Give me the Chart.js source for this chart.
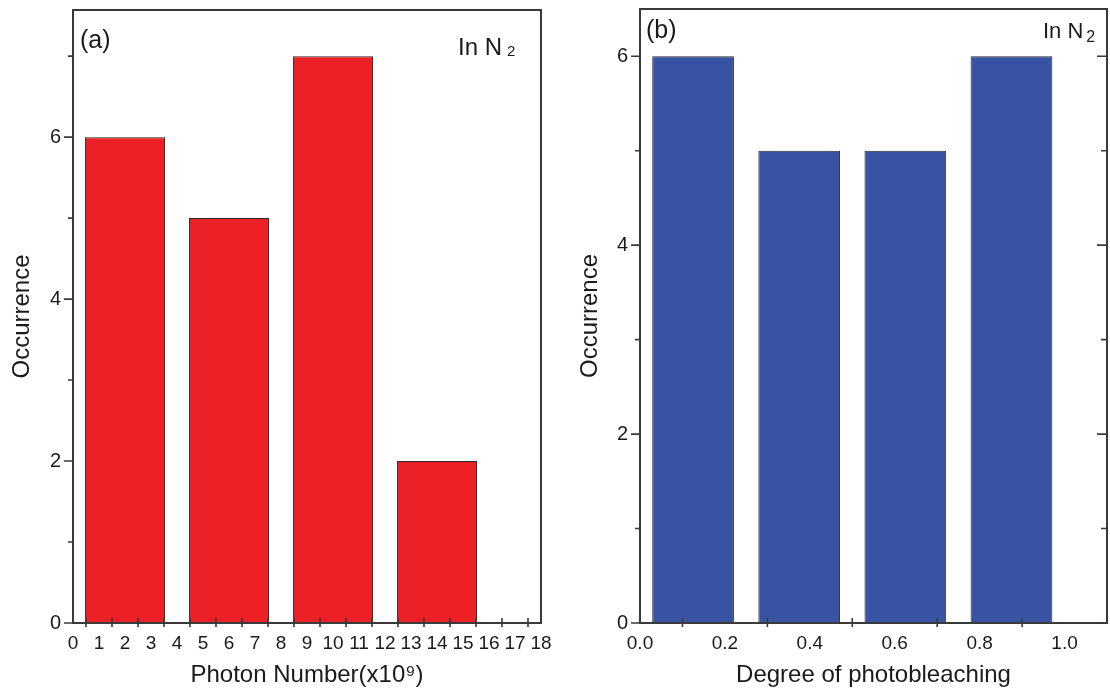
<!DOCTYPE html>
<html>
<head>
<meta charset="utf-8">
<title>Photon number and photobleaching in N2</title>
<script src="https://cdn.jsdelivr.net/npm/chart.js@4.4.1/dist/chart.umd.min.js"></script>
<style>
  html, body { margin: 0; padding: 0; background: #fff; }
  #wrap { position: relative; width: 1110px; height: 698px; }
  canvas { position: absolute; top: 0; }
  #photon { left: 0; }
  #bleach { left: 560px; }
</style>
</head>
<body>
<div id="wrap">
  <canvas id="photon" width="560" height="698"></canvas>
  <canvas id="bleach" width="550" height="698"></canvas>
</div>
<script>
// (a) photon number per molecule, bins 4 wide (x10^9)
const photonBins = [2, 6, 10, 14];
const photonCounts = [6, 5, 7, 2];
const photonTickLabels = [0, 1, 2, 3, 4, 5, 6, 7, 8, 9, 10, 11, 12, 13, 14, 15, 16, 17, 18];
const photonTickMarks = [0.5, 1.5, 2.5, 3.5, 4.5, 5.5, 6.5, 7.5, 8.5, 9.5, 10.5, 11.5, 12.5, 13.5, 14.5, 15.5, 16.5, 17.5];
const photonYTicks = [0, 1, 2, 3, 4, 5, 6, 7];

// (b) degree of photobleaching, bins 0.25 wide
const bleachBins = [0.125, 0.375, 0.625, 0.875];
const bleachCounts = [6, 5, 5, 6];
const bleachTickLabels = [0, 0.2, 0.4, 0.6, 0.8, 1.0];
const bleachTickMarks = [0.1, 0.3, 0.5, 0.7, 0.9];
const bleachYTicks = [0, 1, 2, 3, 4, 5, 6];

Chart.defaults.font.family = "'Liberation Sans', Arial, sans-serif";
Chart.defaults.color = '#1a1a1a';

// box around the plot, hand-made tick marks and the panel tags
const framePlugin = {
  id: 'frame',
  afterDatasetsDraw(chart, args, opts) {
    const { ctx, chartArea: a, scales: { x, y } } = chart;
    ctx.save();
    ctx.strokeStyle = '#3a3a3a';
    ctx.lineWidth = 2;
    ctx.strokeRect(a.left, a.top, a.right - a.left, a.bottom - a.top);

    ctx.lineWidth = 1.6;
    ctx.beginPath();
    opts.xMarks.forEach(v => {
      const px = x.getPixelForValue(v);
      ctx.moveTo(px, a.bottom - 5);
      ctx.lineTo(px, a.bottom + 4);
    });
    y.ticks.forEach(t => {
      const py = y.getPixelForValue(t.value);
      const major = t.value % 2 === 0;
      ctx.moveTo(a.left - (major ? 9 : 5), py);
      ctx.lineTo(a.left, py);
      if (opts.mirrorY) {
        ctx.moveTo(a.right, py);
        ctx.lineTo(a.right - (major ? 10 : 6), py);
      }
    });
    ctx.stroke();

    ctx.fillStyle = '#1a1a1a';
    ctx.textBaseline = 'middle';
    ctx.textAlign = 'left';
    ctx.font = "25px 'Liberation Sans', Arial, sans-serif";
    ctx.fillText(opts.tag, a.left + opts.tagX, opts.tagY);

    const g = opts.gas;
    ctx.textBaseline = 'alphabetic';
    ctx.font = g.size + "px 'Liberation Sans', Arial, sans-serif";
    ctx.fillText('In N', g.x, g.y);
    const w = ctx.measureText('In N').width;
    ctx.font = g.subSize + "px 'Liberation Sans', Arial, sans-serif";
    ctx.fillText('2', g.x + w + g.subGap, g.y + g.subDrop);
    ctx.restore();
  }
};

// keep edge labels from pushing the plot box inwards
function noEdgePadding(s) {
  s.paddingTop = 0;
  s.paddingBottom = 0;
  s.paddingLeft = 0;
  s.paddingRight = 0;
}

function histogram(id, p) {
  return new Chart(document.getElementById(id), {
    type: 'bar',
    data: {
      datasets: [{
        data: p.bins.map((b, i) => ({ x: b, y: p.counts[i] })),
        xAxisID: 'bins',
        yAxisID: 'y',
        backgroundColor: p.color,
        borderColor: '#2a2a2a',
        borderWidth: 1,
        borderSkipped: false,
        categoryPercentage: 1,
        barPercentage: 0.77
      }]
    },
    options: {
      responsive: false,
      animation: false,
      devicePixelRatio: 1,
      layout: { padding: p.padding },
      plugins: {
        legend: { display: false },
        tooltip: { enabled: false },
        frame: p.frame
      },
      scales: {
        x: {
          type: 'linear',
          position: 'bottom',
          min: 0,
          max: p.xMax,
          offset: false,
          grid: { display: false, drawTicks: false },
          border: { display: false },
          afterBuildTicks: s => { s.ticks = p.xLabels.map(v => ({ value: v })); },
          ticks: {
            padding: 9,
            autoSkip: false,
            maxRotation: 0,
            font: { size: 19 },
            callback: p.xFormat
          },
          title: {
            display: true,
            text: p.xTitle,
            font: { size: 24 },
            padding: { top: 0, bottom: 8 }
          },
          afterFit: s => { s.height = 75; noEdgePadding(s); }
        },
        // hidden axis carrying the bars, ticks only at bin centres
        bins: {
          type: 'linear',
          display: false,
          min: 0,
          max: p.xMax,
          offset: false,
          afterBuildTicks: s => { s.ticks = p.bins.map(v => ({ value: v })); }
        },
        y: {
          min: 0,
          max: p.yMax,
          grid: { display: false, drawTicks: false },
          border: { display: false },
          afterBuildTicks: s => { s.ticks = p.yTicks.map(v => ({ value: v })); },
          ticks: {
            padding: 12,
            font: { size: 20 },
            callback: v => (v % 2 === 0 ? v : '')
          },
          title: {
            display: true,
            text: 'Occurrence',
            font: { size: 24 },
            padding: { top: p.yTitlePad, bottom: 0 }
          },
          afterFit: s => { s.width = p.yWidth; noEdgePadding(s); }
        }
      }
    },
    plugins: [framePlugin]
  });
}

histogram('photon', {
  bins: photonBins,
  counts: photonCounts,
  color: '#ec2027',
  xMax: 18,
  yMax: 7.57,
  xLabels: photonTickLabels,
  yTicks: photonYTicks,
  xFormat: v => String(v),
  xTitle: 'Photon Number(x10\u2079)',
  yWidth: 73,
  yTitlePad: 8,
  padding: { top: 10, right: 19 },
  frame: {
    xMarks: photonTickMarks,
    mirrorY: false,
    tag: '(a)',
    tagX: 7,
    tagY: 41,
    gas: { x: 458, y: 55, size: 24, subSize: 15, subGap: 5, subDrop: 1 }
  }
});

histogram('bleach', {
  bins: bleachBins,
  counts: bleachCounts,
  color: '#3953a4',
  xMax: 1.1,
  yMax: 6.5,
  xLabels: bleachTickLabels,
  yTicks: bleachYTicks,
  xFormat: v => v.toFixed(1),
  xTitle: 'Degree of photobleaching',
  yWidth: 80,
  yTitlePad: 16,
  padding: { top: 9, right: 3 },
  frame: {
    xMarks: bleachTickMarks,
    mirrorY: true,
    tag: '(b)',
    tagX: 6,
    tagY: 31,
    gas: { x: 483, y: 38, size: 22, subSize: 16, subGap: 3, subDrop: 4 }
  }
});
</script>
</body>
</html>
